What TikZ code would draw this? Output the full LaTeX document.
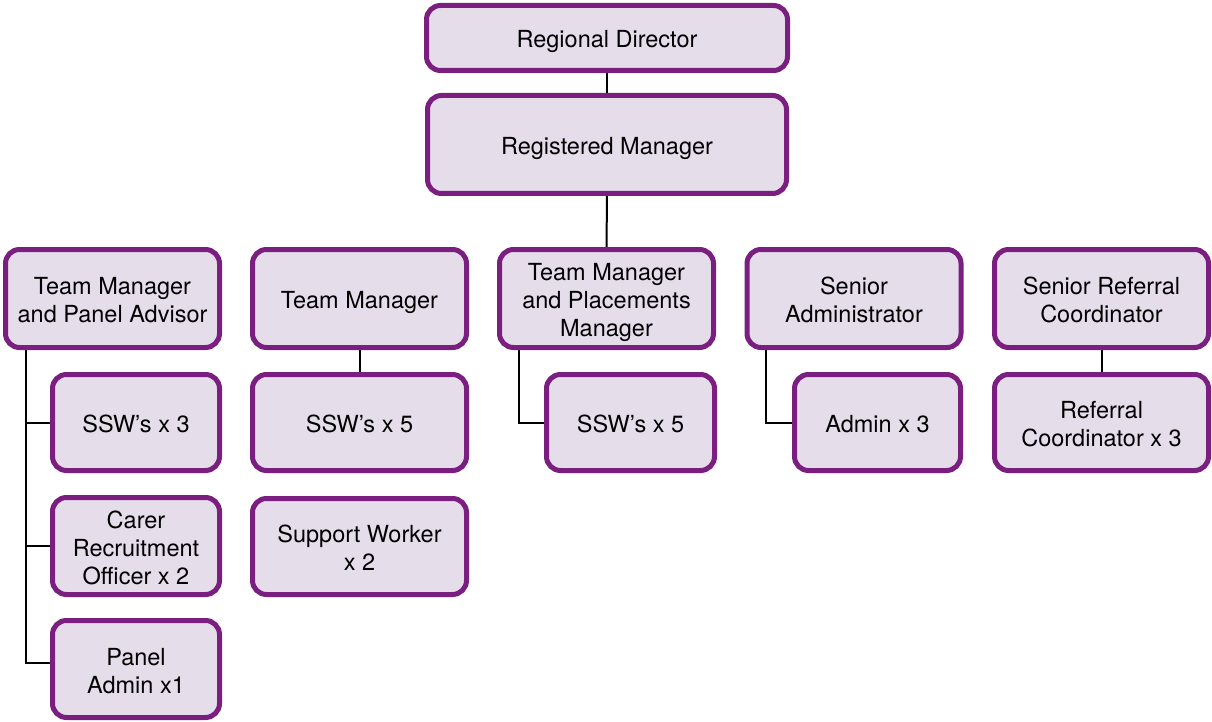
\documentclass[tikz,border=0pt]{standalone}
\usepackage{fontspec}
\setmainfont{TeX Gyre Heros}
\usetikzlibrary{backgrounds}
\definecolor{boxborder}{HTML}{7A1E80}
\definecolor{boxfill}{HTML}{E6DDEB}
\newcommand\bxt[1]{\begin{tabular}{@{}c@{}}\rule{0pt}{28.4pt}#1\end{tabular}}
\begin{document}
\begin{tikzpicture}[x=1pt,y=-1pt,
  box/.style={draw=boxborder, fill=boxfill, line width=5pt, rounded corners=14pt,
    inner sep=0pt, outer sep=0pt,
    font=\fontsize{23.5}{28}\selectfont, text=black},
  conn/.style={draw=black, line width=2pt}]
\useasboundingbox (0,0) rectangle (1212,722);
% top
\node[box, minimum width=361pt, minimum height=65pt] (rd) at (607,38) {\bxt{Regional Director}};
\node[box, minimum width=359pt, minimum height=98pt] (rm) at (607,144.5) {\bxt{Registered Manager}};
% level 2
\node[box, minimum width=214pt, minimum height=98pt] (b1) at (112.5,298.5) {\bxt{Team Manager\\and Panel Advisor}};
\node[box, minimum width=214pt, minimum height=98pt] (b2) at (359.5,298.5) {\bxt{Team Manager}};
\node[box, minimum width=214pt, minimum height=98pt] (b3) at (606.5,298.5) {\bxt{Team Manager\\and Placements\\Manager}};
\node[box, minimum width=214pt, minimum height=98pt] (b4) at (854,298.5) {\bxt{Senior\\Administrator}};
\node[box, minimum width=214pt, minimum height=98pt] (b5) at (1101.5,298.5) {\bxt{Senior Referral\\Coordinator}};
% level 3
\node[box, minimum width=167pt, minimum height=96pt] (c1) at (136,422.5) {\bxt{SSW’s x 3}};
\node[box, minimum width=167pt, minimum height=97pt] (c2) at (136,546) {\bxt{Carer\\Recruitment\\Officer x 2}};
\node[box, minimum width=167pt, minimum height=97pt] (c3) at (136,669) {\bxt{Panel\\Admin x1}};
\node[box, minimum width=214pt, minimum height=96pt] (d1) at (359.5,422.5) {\bxt{SSW’s x 5}};
\node[box, minimum width=214pt, minimum height=96pt] (d2) at (359.5,546.5) {\bxt{Support Worker\\x 2}};
\node[box, minimum width=168pt, minimum height=96pt] (e1) at (630.5,422.5) {\bxt{SSW’s x 5}};
\node[box, minimum width=166pt, minimum height=96pt] (f1) at (877.5,422.5) {\bxt{Admin x 3}};
\node[box, minimum width=214pt, minimum height=96pt] (g1) at (1101.5,422.5) {\bxt{Referral\\Coordinator x 3}};
% connectors
\begin{scope}[on background layer]
\draw[conn] (rd.south) -- (rm.north);
\draw[conn] (rm.south) -- (b3.north);
\draw[conn] ([xshift=20.5pt]b1.south west) |- ([yshift=6pt]c3.west);
\draw[conn] ([xshift=20.5pt]b1.south west) |- (c1.west);
\draw[conn] ([xshift=20.5pt]b1.south west) |- (c2.west);
\draw[conn] (b2.south) -- (d1.north);
\draw[conn] ([xshift=19.5pt]b3.south west) |- (e1.west);
\draw[conn] ([xshift=18.5pt]b4.south west) |- (f1.west);
\draw[conn] (b5.south) -- (g1.north);
\end{scope}
\end{tikzpicture}
\end{document}
